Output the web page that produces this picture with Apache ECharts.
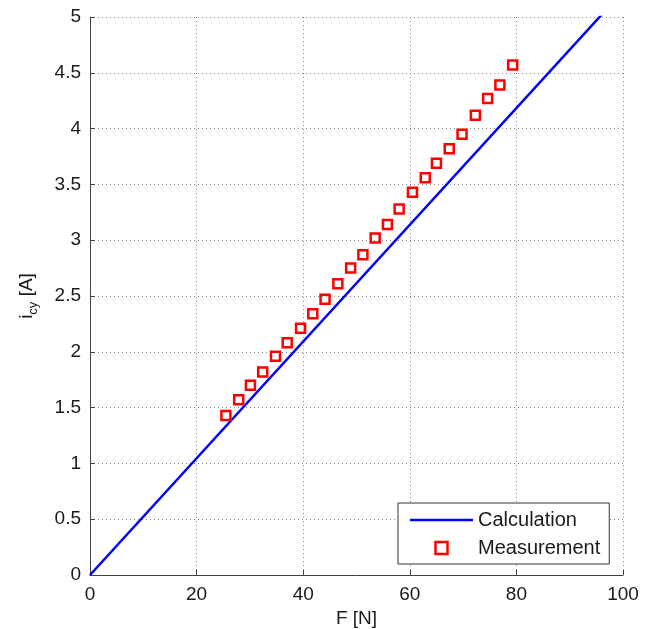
<!DOCTYPE html>
<html>
<head>
<meta charset="utf-8">
<script src="https://cdn.jsdelivr.net/npm/echarts@6/dist/echarts.min.js"></script>
<style>
html,body{margin:0;padding:0;background:#fff;overflow:hidden;}
#chart{width:649px;height:629px;}
</style>
</head>
<body>
<div id="chart"></div>
<script>
// Calculation line (F [N], i_cy [A])
var calcF = [0, 100];
var calcI = [0, 5.23];
// Measurement points
var measF = [25.5, 27.9, 30.1, 32.4, 34.8, 37.0, 39.5, 41.8, 44.1, 46.5, 48.9, 51.2, 53.5, 55.8, 58.0, 60.5, 62.9, 65.0, 67.4, 69.8, 72.3, 74.6, 76.9, 79.3];
var measI = [1.43, 1.57, 1.70, 1.82, 1.96, 2.08, 2.21, 2.34, 2.47, 2.61, 2.75, 2.87, 3.02, 3.14, 3.28, 3.43, 3.56, 3.69, 3.82, 3.95, 4.12, 4.27, 4.39, 4.57];
var seriesNames = ['Calculation', 'Measurement'];
var xName = 'F [N]';

function pairs(a, b) { return a.map(function (v, i) { return [v, b[i]]; }); }

var font = 'Liberation Sans, Arial, Helvetica, sans-serif';
var axisColor = '#404040';
var gridLine = { show: true, lineStyle: { color: '#8a8a8a', type: [1, 3], width: 1 } };

var el = document.getElementById('chart');
var chart = echarts.init(el, null, { renderer: 'canvas' });
chart.setOption({
  animation: false,
  backgroundColor: '#fff',
  textStyle: { fontFamily: font },
  grid: { left: 90, right: 26, top: 17, bottom: 54, containLabel: false, outerBoundsMode: 'none' },
  xAxis: {
    type: 'value', min: 0, max: 100, interval: 20,
    name: xName, nameLocation: 'middle', nameGap: 34,
    nameTextStyle: { fontSize: 19, color: '#1a1a1a', fontFamily: font },
    axisLine: { show: true, onZero: false, lineStyle: { color: axisColor, width: 1 } },
    axisTick: { show: true, inside: true, length: 5, lineStyle: { color: axisColor } },
    axisLabel: { fontSize: 19, color: '#1a1a1a', margin: 10, fontFamily: font },
    splitLine: gridLine
  },
  yAxis: {
    type: 'value', min: 0, max: 5, interval: 0.5,
    name: '{i|i}{s|cy}{a| [A]}', nameLocation: 'middle', nameGap: 50, nameRotate: 90,
    nameTextStyle: {
      color: '#1a1a1a', fontFamily: font,
      rich: {
        i: { fontSize: 19, lineHeight: 26, verticalAlign: 'middle', fontFamily: font, color: '#1a1a1a' },
        s: { fontSize: 13, lineHeight: 26, verticalAlign: 'bottom', fontFamily: font, color: '#1a1a1a' },
        a: { fontSize: 19, lineHeight: 26, verticalAlign: 'middle', fontFamily: font, color: '#1a1a1a' }
      }
    },
    axisLine: { show: true, onZero: false, lineStyle: { color: axisColor, width: 1 } },
    axisTick: { show: true, inside: true, length: 5, lineStyle: { color: axisColor } },
    axisLabel: { fontSize: 19, color: '#1a1a1a', margin: 9, fontFamily: font },
    splitLine: gridLine
  },
  legend: {
    orient: 'vertical',
    left: 398, top: 503,
    padding: [6, 9, 5, 12],
    itemGap: 6,
    itemWidth: 63, itemHeight: 12,
    symbolKeepAspect: true,
    backgroundColor: '#fff',
    borderColor: '#333', borderWidth: 1, borderRadius: 0,
    textStyle: { fontSize: 20, lineHeight: 22, color: '#1a1a1a', fontFamily: font },
    data: [
      { name: seriesNames[0], icon: 'path://M0,0H63V2.5H0Z', itemStyle: { color: '#0000ff', borderWidth: 0 } },
      { name: seriesNames[1], icon: 'path://M0,0H10V10H0Z', itemStyle: { color: 'rgba(255,255,255,0)', borderColor: '#ff0000', borderWidth: 2.5 } }
    ]
  },
  series: [
    {
      name: seriesNames[0], type: 'line', data: pairs(calcF, calcI),
      symbol: 'none', clip: true,
      lineStyle: { color: '#0000ff', width: 2.5 },
      itemStyle: { color: '#0000ff' },
      z: 3
    },
    {
      name: seriesNames[1], type: 'scatter', data: pairs(measF, measI),
      symbol: 'rect', symbolSize: 9,
      itemStyle: { color: 'rgba(255,255,255,0)', borderColor: '#ff0000', borderWidth: 2.5, opacity: 1 },
      z: 4
    }
  ]
});
</script>
</body>
</html>
